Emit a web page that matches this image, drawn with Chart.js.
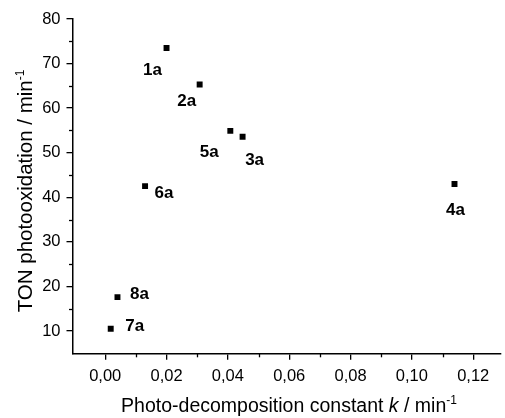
<!DOCTYPE html>
<html>
<head>
<meta charset="utf-8">
<script src="https://cdn.jsdelivr.net/npm/chart.js@4"></script>
<style>
  html, body { margin: 0; padding: 0; background: #fff; }
  #wrap { width: 505px; height: 418px; }
</style>
</head>
<body>
<div id="wrap"><canvas id="grafica" width="505" height="418"></canvas></div>
<script>
// ── DATOS ────────────────────────────────────────────────
const compuestos = ["1a", "2a", "3a", "4a", "5a", "6a", "7a", "8a"];
const constanteK = [0.0200, 0.0308, 0.0448, 0.1139, 0.0408, 0.0130, 0.0018, 0.0040];
const tonFoto    = [73.5, 65.3, 53.6, 43.0, 54.9, 42.5, 10.5, 17.6];

const xTicks      = [0.00, 0.02, 0.04, 0.06, 0.08, 0.10, 0.12];
const xMinorTicks = [0.01, 0.03, 0.05, 0.07, 0.09, 0.11];
const yTicks      = [10, 20, 30, 40, 50, 60, 70, 80];
const yMinorTicks = [15, 25, 35, 45, 55, 65, 75];

// desplazamiento de cada etiqueta respecto a su punto (px)
const offsetsEtiqueta = {
  "1a": [-14, 21], "2a": [-13, 15], "3a": [12, 22], "4a": [1, 25],
  "5a": [-21, 20], "6a": [19, 6],  "7a": [24, -4], "8a": [22, -4]
};

const FUENTE = "'Liberation Sans', Arial, Helvetica, sans-serif";
const NEGRO = "#000";

// ── PLUGIN: ticks menores, etiquetas y títulos de ejes ──
const decoracion = {
  id: "decoracion",
  afterDraw(chart) {
    const ctx = chart.ctx;
    const xs = chart.scales.x, ys = chart.scales.y;
    const area = chart.chartArea;
    ctx.save();

    // ticks menores
    ctx.strokeStyle = NEGRO;
    ctx.lineWidth = 1.3;
    xMinorTicks.forEach(v => {
      const px = Math.round(xs.getPixelForValue(v)) + 0.5;
      ctx.beginPath();
      ctx.moveTo(px, area.bottom);
      ctx.lineTo(px, area.bottom + 4);
      ctx.stroke();
    });
    yMinorTicks.forEach(v => {
      const py = Math.round(ys.getPixelForValue(v)) + 0.5;
      ctx.beginPath();
      ctx.moveTo(area.left, py);
      ctx.lineTo(area.left - 4, py);
      ctx.stroke();
    });

    // etiquetas de compuestos
    const fs = 17;
    ctx.fillStyle = NEGRO;
    ctx.font = "bold " + fs + "px " + FUENTE;
    ctx.textAlign = "center";
    ctx.textBaseline = "alphabetic";
    const meta = chart.getDatasetMeta(0);
    meta.data.forEach((pt, i) => {
      const nombre = compuestos[i];
      const off = offsetsEtiqueta[nombre] || [0, 0];
      ctx.fillText(nombre, pt.x + off[0], pt.y + off[1] + 0.36 * fs);
    });

    // títulos de ejes (texto mixto: cursiva y superíndice)
    const tt = 19.5;
    const partesX = [
      { t: "Photo-decomposition constant ", f: tt + "px " + FUENTE },
      { t: "k", f: "italic " + tt + "px " + FUENTE },
      { t: " / min", f: tt + "px " + FUENTE },
      { t: "-1", f: "12px " + FUENTE, sup: true }
    ];
    dibujarMixto(ctx, partesX, 289, 412, 0);

    const ty = 20.5;
    const partesY = [
      { t: "TON photooxidation / min", f: ty + "px " + FUENTE },
      { t: "-1", f: "12px " + FUENTE, sup: true }
    ];
    dibujarMixto(ctx, partesY, 32, 191, -Math.PI / 2);

    ctx.restore();
  }
};

function dibujarMixto(ctx, partes, cx, base, rot) {
  let total = 0;
  partes.forEach(p => { ctx.font = p.f; p.w = ctx.measureText(p.t).width; total += p.w; });
  ctx.save();
  ctx.translate(cx, base);
  ctx.rotate(rot);
  ctx.textAlign = "left";
  ctx.textBaseline = "alphabetic";
  ctx.fillStyle = NEGRO;
  let x = -total / 2;
  partes.forEach(p => {
    ctx.font = p.f;
    ctx.fillText(p.t, x, p.sup ? -8 : 0);
    x += p.w;
  });
  ctx.restore();
}

// ── GRÁFICA ──────────────────────────────────────────────
const puntos = constanteK.map((k, i) => ({ x: k, y: tonFoto[i] }));

new Chart(document.getElementById("grafica"), {
  type: "scatter",
  data: {
    datasets: [{
      data: puntos,
      pointStyle: "rect",
      pointRadius: 4.2,
      pointHoverRadius: 4.2,
      backgroundColor: NEGRO,
      borderWidth: 0
    }]
  },
  options: {
    responsive: false,
    animation: false,
    events: [],
    layout: { padding: { top: 19, right: 0, left: 0, bottom: 0 } },
    plugins: { legend: { display: false }, tooltip: { enabled: false } },
    scales: {
      x: {
        type: "linear",
        min: -0.0105,
        max: 0.129,
        afterBuildTicks: s => { s.ticks = xTicks.map(v => ({ value: v })); },
        afterFit: s => { s.height = 64.7; },
        border: { display: true, color: NEGRO, width: 1.5 },
        grid: { drawOnChartArea: false, drawTicks: true, tickLength: 6.5, color: NEGRO, lineWidth: 1.3 },
        ticks: {
          color: NEGRO,
          padding: 7,
          maxRotation: 0,
          font: { family: FUENTE, size: 16.5 },
          callback: v => v.toFixed(2).replace(".", ",")
        }
      },
      y: {
        type: "linear",
        min: 5,
        max: 80,
        afterBuildTicks: s => { s.ticks = yTicks.map(v => ({ value: v })); },
        afterFit: s => { s.width = 73; },
        border: { display: true, color: NEGRO, width: 1.5 },
        grid: { drawOnChartArea: false, drawTicks: true, tickLength: 6.5, color: NEGRO, lineWidth: 1.3 },
        ticks: {
          color: NEGRO,
          padding: 6,
          font: { family: FUENTE, size: 16.5 },
          callback: v => String(v)
        }
      }
    }
  },
  plugins: [decoracion]
});
</script>
</body>
</html>
